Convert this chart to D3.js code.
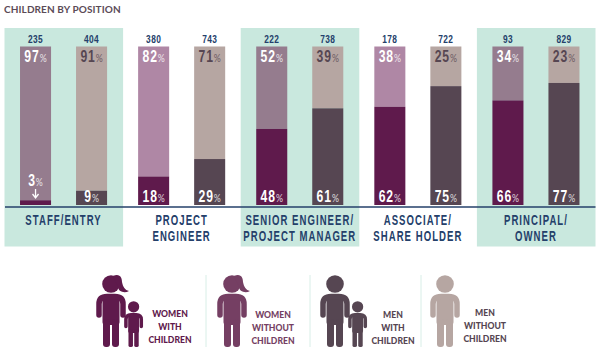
<!DOCTYPE html>
<html>
<head>
<meta charset="utf-8">
<script src="https://d3js.org/d3.v7.min.js"></script>
<style>
    html, body { margin: 0; padding: 0; background: #fff; }
    svg { display: block; }
    .count { font: bold 11px "Liberation Sans", sans-serif; fill: #24406a; letter-spacing: .5px; text-anchor: middle; }
    .pct { font: bold 16px "Liberation Sans", sans-serif; letter-spacing: 1.2px; text-anchor: middle; }
    .pct .sign { font: normal 11.5px Lato, sans-serif; letter-spacing: 0; opacity: .8; }
    .tick text { font: bold 14.5px "Liberation Sans", sans-serif; fill: #24406a; letter-spacing: 1.6px; }
    .legend-label { font: 900 8.6px Lato, sans-serif; text-anchor: middle; }
</style>
</head>
<body>
<svg id="chart" width="600" height="351"></svg>
<script>
    // Values
    const positions = ["STAFF/ENTRY", "PROJECT ENGINEER", "SENIOR ENGINEER/ PROJECT MANAGER", "ASSOCIATE/ SHARE HOLDER", "PRINCIPAL/ OWNER"];
    const positionLines = [["STAFF/ENTRY"], ["PROJECT", "ENGINEER"], ["SENIOR ENGINEER/", "PROJECT MANAGER"], ["ASSOCIATE/", "SHARE HOLDER"], ["PRINCIPAL/", "OWNER"]];
    const groups = ["women", "men"];
    const womenCounts = [235, 380, 222, 178, 93];
    const menCounts = [404, 743, 738, 722, 829];
    const womenWithChildren = [3, 18, 48, 62, 66];
    const menWithChildren = [9, 29, 61, 75, 77];
    const shadedPositions = [0, 2, 4];

    const legendLabels = [["WOMEN", "WITH", "CHILDREN"], ["WOMEN", "WITHOUT", "CHILDREN"], ["MEN", "WITH", "CHILDREN"], ["MEN", "WITHOUT", "CHILDREN"]];

    const colors = {
        womenWith: "#5f1a4c",
        womenWithout: "#af87a5",
        womenWithoutShaded: "#957c8e",
        womenIcon: "#753f63",
        menWith: "#564652",
        menWithout: "#b6a6a2",
        panel: "#c9e8de",
        navy: "#24406a"
    };

    const svg = d3.select("#chart");

    const x = d3.scaleBand().domain(positions).range([4.5, 595]);
    const inner = d3.scaleBand().domain(groups).range([0, x.bandwidth()]).paddingInner(0.446).paddingOuter(0.277);
    const y = d3.scaleLinear().domain([0, 100]).range([205, 46.5]);

    svg.append("text").attr("x", 4).attr("y", 13)
        .style("font", "bold 10px Lato, sans-serif").style("letter-spacing", ".1px")
        .attr("fill", "#5b4b57").text("CHILDREN BY POSITION");

    // Shaded panels behind every other position
    svg.selectAll("rect.panel").data(shadedPositions).join("rect")
        .attr("class", "panel")
        .attr("x", i => x(positions[i]))
        .attr("width", x.bandwidth() + 0.5)
        .attr("y", 28).attr("height", 218.5)
        .attr("fill", colors.panel);

    const rows = positions.flatMap((p, i) => {
        const shaded = shadedPositions.includes(i);
        return [
            { position: p, group: "women", count: womenCounts[i], withKids: womenWithChildren[i],
              low: colors.womenWith, high: shaded ? colors.womenWithoutShaded : colors.womenWithout, topText: "#fff" },
            { position: p, group: "men", count: menCounts[i], withKids: menWithChildren[i],
              low: colors.menWith, high: colors.menWithout, topText: colors.menWith }
        ];
    });

    const bars = svg.selectAll("g.bar").data(rows).join("g")
        .attr("class", "bar")
        .attr("transform", d => `translate(${x(d.position) + inner(d.group)},0)`);

    bars.append("rect")
        .attr("width", inner.bandwidth())
        .attr("y", y(100))
        .attr("height", d => y(d.withKids) - y(100))
        .attr("fill", d => d.high);

    bars.append("rect")
        .attr("width", inner.bandwidth())
        .attr("y", d => y(d.withKids))
        .attr("height", d => y(0) - y(d.withKids))
        .attr("fill", d => d.low);

    const mid = inner.bandwidth() / 2;

    // No condensed font is installed, so the narrow lettering is squeezed by hand
    bars.append("text").attr("class", "count")
        .attr("transform", `translate(${mid},43) scale(.76,1)`)
        .text(d => d.count);

    function addPct(sel, getValue, color, yPos) {
        const t = sel.append("text").attr("class", "pct")
            .attr("transform", `translate(${mid},${yPos}) scale(.76,1)`)
            .attr("fill", color);
        t.append("tspan").text(getValue);
        t.append("tspan").attr("class", "sign").text("%");
    }

    addPct(bars, d => 100 - d.withKids, d => d.topText, 62);
    addPct(bars.filter(d => d.withKids >= 9), d => d.withKids, "#fff", 202);

    // The 3% slice is too thin, so its label sits above with an arrow
    const thin = bars.filter(d => d.withKids < 9);
    addPct(thin, d => d.withKids, "#fff", 186);
    thin.append("path")
        .attr("d", `M${mid},189V197M${mid - 3},194L${mid},198L${mid + 3},194`)
        .attr("fill", "none").attr("stroke", "#fff").attr("stroke-width", 1.3);

    // Axis carries the position names on one or two lines
    const axis = svg.append("g").attr("transform", "translate(0,206.5)")
        .call(d3.axisBottom(x).tickSize(0).tickFormat(""));
    axis.select(".domain").attr("stroke", colors.navy).attr("stroke-width", 1.5);
    axis.selectAll(".tick text").each(function (d, i) {
        d3.select(this)
            .attr("dy", null)
            .attr("transform", "scale(.66,1)")
            .selectAll("tspan").data(positionLines[i]).join("tspan")
            .attr("x", 0)
            .attr("y", (l, j) => 19 + j * 15.5)
            .text(l => l);
    });

    // Legend figures
    function person(g, color, female) {
        g.append("circle").attr("cx", 15).attr("cy", 9).attr("r", 8.8).attr("fill", color);
        g.append("rect").attr("x", 6.5).attr("y", 20).attr("width", 17).attr("height", 30).attr("rx", 3).attr("fill", color);
        g.append("path").attr("d", "M3,40V29Q3,21.5 11,21.5H19Q27,21.5 27,29V40")
            .attr("fill", "none").attr("stroke", color).attr("stroke-width", 5.5).attr("stroke-linecap", "round");
        g.append("rect").attr("x", 7).attr("y", 44).attr("width", 7).attr("height", 28).attr("rx", 3).attr("fill", color);
        g.append("rect").attr("x", 16).attr("y", 44).attr("width", 7).attr("height", 28).attr("rx", 3).attr("fill", color);
        if (female) {
            g.append("path").attr("d", "M17,1C24,-2 26,3 26,7C27,12 29,15 33,16C28,19 22,16 22,12Z").attr("fill", color);
        }
    }

    const figures = [
        { dx: 96, color: colors.womenWith, text: colors.womenWith, female: true, kid: 124, textX: 170, textY: 317 },
        { dx: 217, color: colors.womenIcon, text: colors.womenIcon, female: true, kid: null, textX: 273, textY: 318 },
        { dx: 320, color: colors.menWith, text: colors.menWith, female: false, kid: 348, textX: 393, textY: 318 },
        { dx: 430, color: colors.menWithout, text: colors.menWith, female: false, kid: null, textX: 485, textY: 316 }
    ];

    figures.forEach((f, i) => {
        const g = svg.append("g").attr("transform", `translate(${f.dx},275)`);
        person(g, f.color, f.female);
        if (f.kid !== null) {
            const k = svg.append("g").attr("transform", `translate(${f.kid},301) scale(0.64)`);
            person(k, f.color, false);
        }
        svg.append("text").attr("class", "legend-label").attr("fill", f.text)
            .selectAll("tspan").data(legendLabels[i]).join("tspan")
            .attr("x", f.textX)
            .attr("y", (l, j) => f.textY + j * 13)
            .text(l => l);
    });

    // Thin separators between legend figures
    svg.selectAll("line.sep").data([206, 310, 421]).join("line")
        .attr("class", "sep")
        .attr("x1", d => d).attr("x2", d => d)
        .attr("y1", 275).attr("y2", 347)
        .attr("stroke", "#d8eee7");
</script>
</body>
</html>
